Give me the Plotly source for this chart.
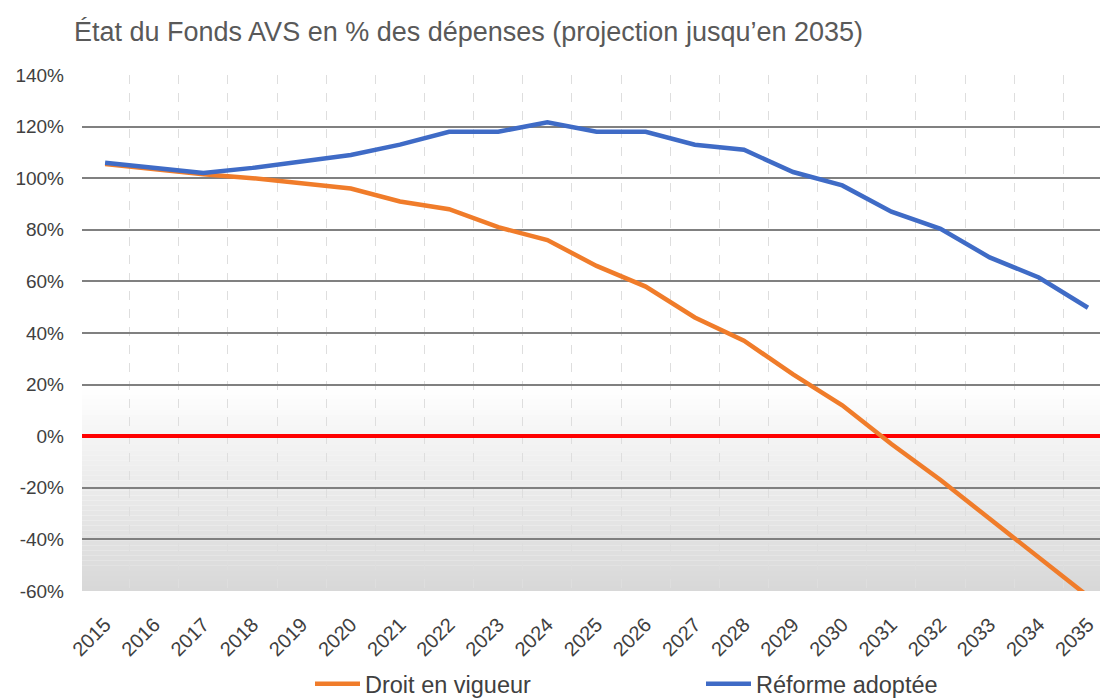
import plotly.graph_objects as go

years = list(range(2015, 2036))
droit_en_vigueur = [105.5, 103.5, 101.5, 100, 98, 96, 91, 88, 81, 76, 66, 58, 46, 37, 24, 12, -3, -17, -32, -47, -62]
reforme_adoptee = [106, 104, 102, 104, 106.5, 109, 113, 118, 118, 121.7, 118, 118, 113, 111, 102.4, 97.2, 87, 80.4, 69.3, 61.5, 49.8]
y_ticks = [-60, -40, -20, 0, 20, 40, 60, 80, 100, 120, 140]
title_text = "État du Fonds AVS en % des dépenses (projection jusqu’en 2035)"

fig = go.Figure()
fig.add_trace(go.Scatter(x=years, y=droit_en_vigueur, mode="lines", name="Droit en vigueur",
                         line=dict(color="#F07C2A", width=4.5), legend="legend"))
fig.add_trace(go.Scatter(x=years, y=reforme_adoptee, mode="lines", name="Réforme adoptée",
                         line=dict(color="#3F6BC6", width=4.5), legend="legend2"))

# grey gradient background in the lower part
shapes = []
n = 40
top, bottom = 18, -60
for i in range(n):
    y0 = top - (top - bottom) * i / n
    y1 = top - (top - bottom) * (i + 1) / n
    t = (i + 0.5) / n
    g = int(round(255 - 39 * (t ** 0.9)))
    shapes.append(dict(type="rect", xref="paper", yref="y", x0=0, x1=1, y0=y1, y1=y0,
                       fillcolor=f"rgb({g},{g},{g})", line=dict(width=0), layer="below"))

legend_common = dict(orientation="h", xanchor="left", yanchor="middle",
                     xref="container", yref="container", y=1-684/699, itemwidth=45,
                     font=dict(size=23.5, color="#404040"), bgcolor="rgba(0,0,0,0)")

fig.update_layout(
    width=1101, height=699,
    margin=dict(l=82, r=1, t=75, b=108),
    paper_bgcolor="white", plot_bgcolor="white",
    font=dict(family="Liberation Sans, Arial, sans-serif", color="#404040"),
    title=dict(text=title_text, xref="container", x=74/1101, xanchor="left",
               yref="container", y=1-32/699, yanchor="middle",
               font=dict(size=27, color="#595959")),
    shapes=shapes,
    showlegend=True,
    legend=dict(x=310/1101, **legend_common),
    legend2=dict(x=701/1101, **legend_common),
)
fig.update_xaxes(range=[2014.53, 2035.245], tickmode="array", tickvals=years,
                 ticktext=[str(y) for y in years], tickangle=-45,
                 tickfont=dict(size=20, color="#404040"), showgrid=False,
                 showline=False, zeroline=False, ticks="", automargin=False,
                 ticklabelstandoff=17,
                 minor=dict(tickvals=[y - 0.5 for y in years] + [2035.5], showgrid=True,
                            griddash="dash", gridcolor="#dedede", gridwidth=1, ticks=""))
fig.update_yaxes(range=[-60, 140], tickmode="array", tickvals=y_ticks,
                 ticktext=[f"{v}%" for v in y_ticks],
                 tickfont=dict(size=19, color="#404040"),
                 showgrid=True, gridcolor="#808080", gridwidth=1.5,
                 zeroline=True, zerolinecolor="#FF0000", zerolinewidth=4,
                 showline=False, ticks="", ticklabelstandoff=17, automargin=False)

fig.write_html("out.html", config={"displayModeBar": False},
               post_script="document.body.style.margin='0';document.body.style.overflow='hidden';")
